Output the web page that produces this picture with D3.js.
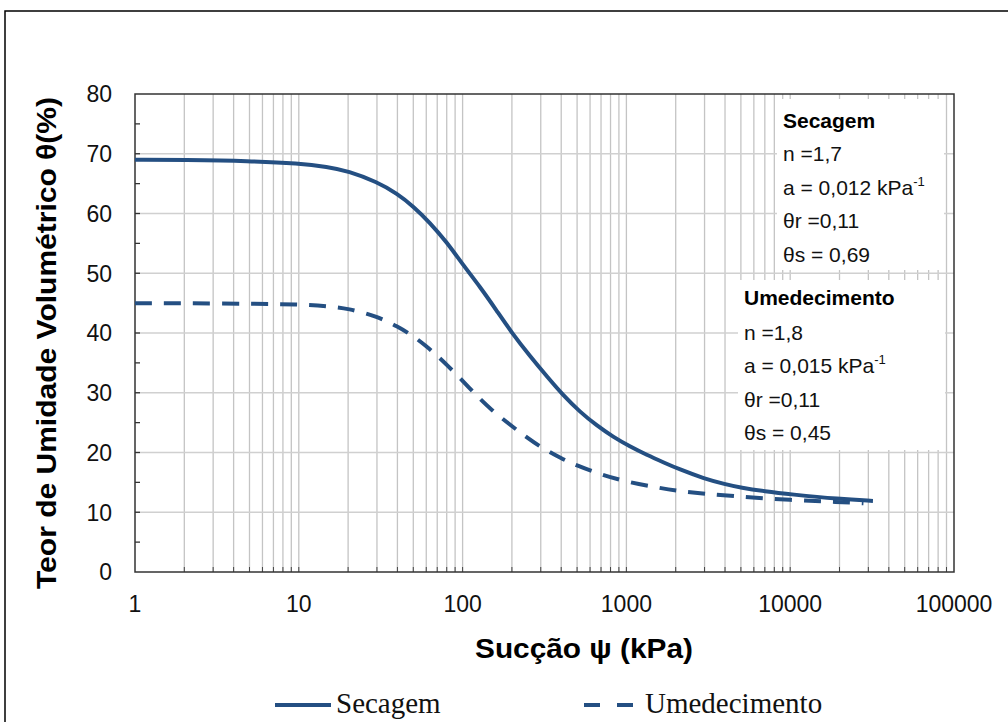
<!DOCTYPE html>
<html><head><meta charset="utf-8">
<script src="https://cdn.jsdelivr.net/npm/d3@7"></script>
<style>body{margin:0;background:#fff}svg{display:block}</style>
</head><body><svg id="c" width="1008" height="722"></svg>
<script>
const secX = [1, 2, 5, 10, 15, 20, 30, 40, 50, 63, 80, 100, 128, 160, 200, 260, 330, 410, 520, 660, 830, 1050, 1330, 1700, 2100, 3000, 4000, 5000, 7000, 10000, 20000, 32000];
const secY = [69.0, 68.95, 68.8, 68.4, 67.8, 67.1, 65.3, 63.3, 61.2, 58.5, 55.2, 51.5, 47.7, 43.9, 40.0, 36.0, 32.6, 29.6, 26.8, 24.5, 22.6, 21.0, 19.6, 18.3, 17.2, 15.6, 14.7, 14.1, 13.5, 13.0, 12.2, 11.9];
const umeX = [1, 2, 5, 10, 15, 20, 30, 40, 50, 60, 70, 80, 100, 120, 150, 200, 250, 300, 400, 500, 700, 1000, 1500, 2000, 3000, 5000, 10000, 20000, 28000];
const umeY = [45.0, 45.0, 44.9, 44.8, 44.5, 44.1, 42.8, 41.1, 39.5, 37.8, 36.2, 34.7, 32.0, 29.7, 27.1, 24.4, 22.4, 20.9, 19.0, 17.8, 16.3, 15.1, 14.2, 13.6, 13.1, 12.6, 12.05, 11.7, 11.5];
const xTicks = [1, 10, 100, 1000, 10000, 100000];
const xTickLabels = ["1", "10", "100", "1000", "10000", "100000"];
const yTicks = [0, 10, 20, 30, 40, 50, 60, 70, 80];
const seriesNames = ["Secagem", "Umedecimento"];
const secInfo = ["n =1,7", "a = 0,012 kPa", "θr =0,11", "θs = 0,69"];
const umeInfo = ["n =1,8", "a = 0,015 kPa", "θr =0,11", "θs = 0,45"];

const SANS = "'Liberation Sans', Arial, sans-serif";
const SERIF = "'Liberation Serif', 'Times New Roman', serif";
const svg = d3.select("#c").style("font-family", SANS);
const L = 135, R = 954, T = 94, B = 572;
const x = d3.scaleLog().domain([1, 100000]).range([L, R]);
const y = d3.scaleLinear().domain([0, 80]).range([B, T]);
const col = "#244f82";

// outer frame
svg.append("rect").attr("x", 5).attr("y", 11).attr("width", 1020).attr("height", 730)
  .attr("fill", "none").attr("stroke", "#000").attr("stroke-width", 1.5);

// grid lines
const minor = [];
for (let d = 1; d < 100000; d *= 10) for (let k = 1; k <= 9; k++) minor.push(d * k);
const inner = minor.filter(v => v > 1);
svg.append("g").selectAll("line").data(inner).join("line")
  .attr("x1", d => x(d)).attr("x2", d => x(d)).attr("y1", T).attr("y2", B)
  .attr("stroke", "#c4c4c4").attr("stroke-width", 1.3);
svg.append("g").selectAll("line").data(yTicks.filter(v => v > 0 && v < 80)).join("line")
  .attr("x1", L).attr("x2", R).attr("y1", d => y(d)).attr("y2", d => y(d))
  .attr("stroke", "#d0d0d0").attr("stroke-width", 1.3);

// inward ticks
svg.append("g").selectAll("line").data(inner).join("line")
  .attr("x1", d => x(d)).attr("x2", d => x(d)).attr("y1", B).attr("y2", B - 5)
  .attr("stroke", "#444").attr("stroke-width", 1);
svg.append("g").selectAll("line").data(d3.range(5, 80, 5)).join("line")
  .attr("x1", L).attr("x2", L + 5).attr("y1", d => y(d)).attr("y2", d => y(d))
  .attr("stroke", "#333").attr("stroke-width", 1.3);

// annotation boxes (white)
svg.append("rect").attr("x", 777).attr("y", 99).attr("width", 167).attr("height", 171).attr("fill", "#fff");
svg.append("rect").attr("x", 738).attr("y", 280).attr("width", 207).attr("height", 170).attr("fill", "#fff");

// plot border
svg.append("rect").attr("x", L).attr("y", T).attr("width", R - L).attr("height", B - T)
  .attr("fill", "none").attr("stroke", "#333").attr("stroke-width", 1.5);

// curves
const line = d3.line().x(d => x(d[0])).y(d => y(d[1])).curve(d3.curveBasis);
svg.append("path").datum(secX.map((v, i) => [v, secY[i]])).attr("d", line)
  .attr("fill", "none").attr("stroke", col).attr("stroke-width", 4);
svg.append("path").datum(umeX.map((v, i) => [v, umeY[i]])).attr("d", line)
  .attr("fill", "none").attr("stroke", col).attr("stroke-width", 4).attr("stroke-dasharray", "17,12");

// tick labels
svg.append("g").selectAll("text").data(yTicks).join("text")
  .attr("x", 112).attr("y", d => y(d)).attr("dy", "0.36em").attr("text-anchor", "end")
  .attr("font-size", 23).attr("fill", "#111").text(d => d);
svg.append("g").selectAll("text").data(xTicks).join("text")
  .attr("x", d => x(d)).attr("y", 612).attr("text-anchor", "middle")
  .attr("font-size", 23).attr("fill", "#111").text((d, i) => xTickLabels[i]);

// axis titles
svg.append("text").attr("x", 584).attr("y", 658).attr("text-anchor", "middle")
  .attr("font-size", 28).attr("font-weight", "bold")
  .attr("textLength", 218).attr("lengthAdjust", "spacingAndGlyphs").text("Sucção ψ (kPa)");
svg.append("text").attr("transform", "translate(56,343) rotate(-90)").attr("text-anchor", "middle")
  .attr("font-size", 27).attr("font-weight", "bold")
  .attr("textLength", 492).attr("lengthAdjust", "spacingAndGlyphs")
  .text("Teor de Umidade Volumétrico θ(%)");

// annotations
function info(x0, ys, title, lines) {
  const g = svg.append("g");
  g.append("text").attr("x", x0).attr("y", ys[0]).attr("font-size", 21).attr("font-weight", "bold").text(title);
  lines.forEach((t, i) => {
    const tx = g.append("text").attr("x", x0).attr("y", ys[i + 1]).attr("font-size", 21).attr("fill", "#111");
    tx.append("tspan").text(t);
    if (i === 1) tx.append("tspan").attr("font-size", 13).attr("dy", -9).text("-1");
  });
}
info(783, [128, 161, 195, 228, 262], seriesNames[0], secInfo);
info(744, [305, 340, 373, 407, 440], seriesNames[1], umeInfo);

// legend
svg.append("line").attr("x1", 275).attr("x2", 331).attr("y1", 705).attr("y2", 705)
  .attr("stroke", col).attr("stroke-width", 4);
svg.append("text").attr("x", 336).attr("y", 713).style("font-family", SERIF)
  .attr("font-size", 29).attr("fill", "#111").text(seriesNames[0]);
svg.append("line").attr("x1", 584).attr("x2", 634).attr("y1", 705).attr("y2", 705)
  .attr("stroke", col).attr("stroke-width", 4).attr("stroke-dasharray", "16,17");
svg.append("text").attr("x", 645).attr("y", 713).style("font-family", SERIF)
  .attr("font-size", 29).attr("fill", "#111").text(seriesNames[1]);
</script></body></html>
